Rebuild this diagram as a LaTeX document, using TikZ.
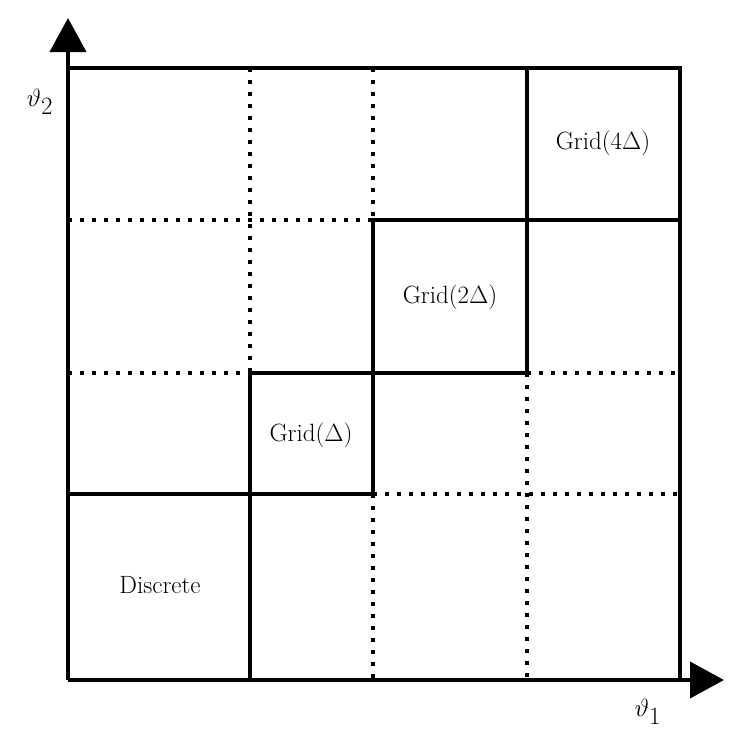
\documentclass[tikz,border=0pt]{standalone}
\usetikzlibrary{arrows.meta}
\begin{document}
\begin{tikzpicture}[x=1pt,y=-1pt,
  solidl/.style={line width=4pt},
  dotl/.style={line width=4pt,dash pattern=on 4pt off 8pt},
  lab/.style={font=\fontsize{25}{28}\selectfont}]
\useasboundingbox (0,0) rectangle (747,747);
\coordinate (O) at (68,680);
\coordinate (X) at (724,680);
\coordinate (Y) at (68,18);
\draw[line width=4pt,-{Triangle[length=34pt,width=36pt]}] (O) -- (X);
\draw[line width=4pt,-{Triangle[length=34pt,width=36pt]}] (O) -- (Y);
\draw[solidl] (68,68) -- (680,68) -- (680,680);
% dotted
\draw[dotl] (250,68) -- (250,373);
\draw[dotl] (373,68) -- (373,220);
\draw[dotl] (373,494) -- (373,680);
\draw[dotl] (527,373) -- (527,680);
\draw[dotl] (68,220) -- (373,220);
\draw[dotl] (68,373) -- (250,373);
\draw[dotl] (527,373) -- (680,373);
\draw[dotl] (373,494) -- (680,494);
% solid staircase
\draw[solidl] (68,494) -- (373,494) -- (373,220) -- (680,220);
\draw[solidl] (250,680) -- (250,373) -- (527,373) -- (527,68);
\node[lab] (d) at (160,585) {Discrete};
\node[lab] (g1) at (311,435) {Grid($\Delta$)};
\node[lab] (g2) at (450,297) {Grid($2\Delta$)};
\node[lab] (g4) at (603,143) {Grid($4\Delta$)};
\node[font=\fontsize{36}{40}\selectfont] (t2) at (40,102) {$\vartheta_2$};
\node[font=\fontsize{36}{40}\selectfont] (t1) at (648,712) {$\vartheta_1$};
\end{tikzpicture}
\end{document}
